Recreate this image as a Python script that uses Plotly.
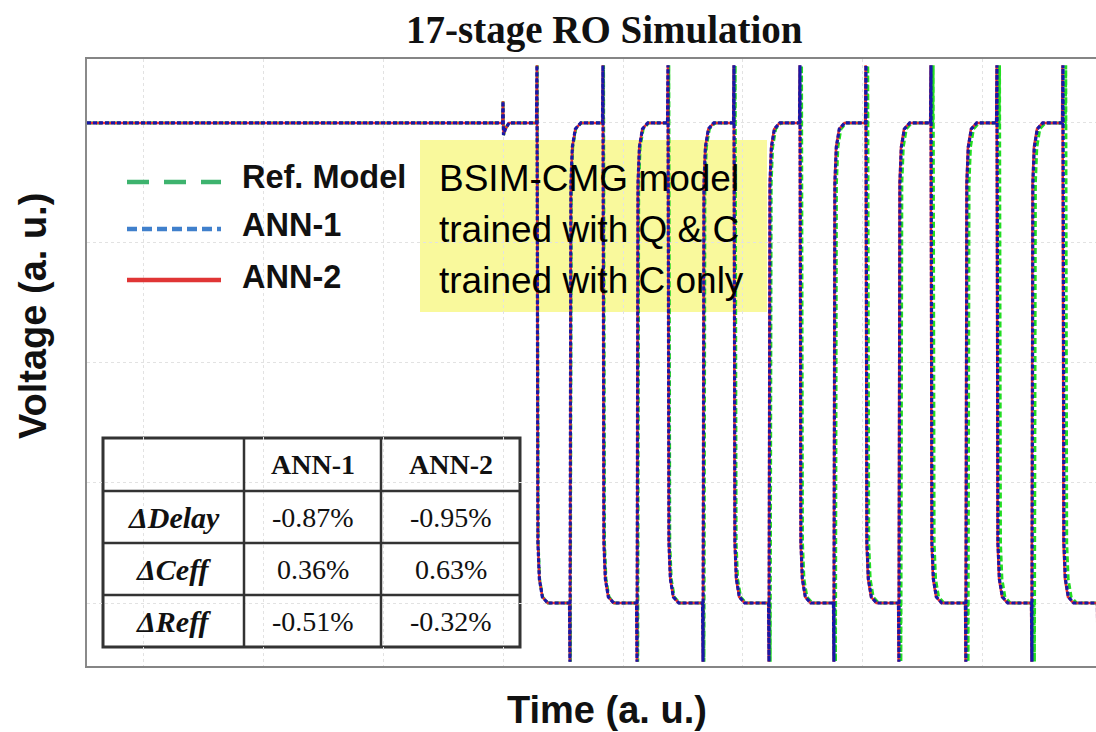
import plotly.graph_objects as go

# ---------------- data ----------------
# time axis in arbitrary units (grid spacing = 1), voltage in arbitrary units
X_RANGE = [0.533, 8.942]
Y_RANGE = [-0.525, 4.533]

T_START = 0.533          # trace start (left frame)
T_GLITCH = 4.0           # first small kick when oscillation begins
V_HIGH = 4.0
V_LOW = 0.0

# falling / rising edge times of each model
ref_fall = [4.285, 4.838, 5.382, 5.935, 6.488, 7.040, 7.585, 8.138, 8.690]
ref_rise = [4.561, 5.123, 5.675, 6.227, 6.771, 7.316, 7.876, 8.429, 8.985]
ann1_fall = [4.283, 4.833, 5.375, 5.925, 6.475, 7.025, 7.567, 8.117, 8.667]
ann1_rise = [4.558, 5.117, 5.667, 6.217, 6.758, 7.300, 7.858, 8.408, 8.958]
ann2_fall = [4.283, 4.832, 5.374, 5.923, 6.473, 7.022, 7.564, 8.114, 8.663]
ann2_rise = [4.558, 5.116, 5.666, 6.215, 6.756, 7.297, 7.855, 8.405, 8.955]

# edge shapes (time offset from edge, voltage)
FALL_DT = [-0.004, 0.0, 0.008, 0.02, 0.045, 0.09]
FALL_V = [4.0, 4.48, 0.5, 0.2, 0.05, 0.0]
RISE_DT = [-0.004, 0.0, 0.008, 0.02, 0.045, 0.09]
RISE_V = [0.0, -0.49, 3.5, 3.8, 3.95, 4.0]
GLITCH_DT = [-0.004, 0.0, 0.004, 0.02, 0.05]
GLITCH_V = [4.0, 4.18, 3.9, 3.95, 4.0]

series_names = ["Ref. Model", "ANN-1", "ANN-2"]

# table
table_header = ["", "ANN-1", "ANN-2"]
table_rows = ["ΔDelay", "ΔCeff", "ΔReff"]
ann1_vals = ["-0.87%", "0.36%", "-0.51%"]
ann2_vals = ["-0.95%", "0.63%", "-0.32%"]

box_lines = ["BSIM-CMG model", "trained with Q & C", "trained with C only"]

# ---------------- layout helpers ----------------
W, H = 1096, 732
ML, MR, MT, MB = 87, 0, 59, 66
PW, PH = W - ML - MR, H - MT - MB


def px(x):
    return (x - ML) / PW


def py(y):
    return (H - MB - y) / PH


def build_wave(falls, rises):
    events = [(T_GLITCH, GLITCH_DT, GLITCH_V)]
    events += [(t, FALL_DT, FALL_V) for t in falls]
    events += [(t, RISE_DT, RISE_V) for t in rises]
    events.sort(key=lambda e: e[0])
    xs, ys = [T_START], [V_HIGH]
    for t, dts, vs in events:
        for dt, v in zip(dts, vs):
            xs.append(t + dt)
            ys.append(v)
    return xs, ys


fig = go.Figure()

xr, yr = build_wave(ref_fall, ref_rise)
x1, y1 = build_wave(ann1_fall, ann1_rise)
x2, y2 = build_wave(ann2_fall, ann2_rise)

fig.add_trace(go.Scatter(x=xr, y=yr, mode="lines", name=series_names[0],
                         line=dict(color="#22dd22", width=3, dash="6px,3px")))
fig.add_trace(go.Scatter(x=x2, y=y2, mode="lines", name=series_names[2],
                         line=dict(color="#e83030", width=2.5)))
fig.add_trace(go.Scatter(x=x1, y=y1, mode="lines", name=series_names[1],
                         line=dict(color="#1818a8", width=3.2, dash="4px,2px")))

shapes = []
annotations = []

# white legend background and yellow note box
shapes.append(dict(type="rect", xref="paper", yref="paper", layer="between",
                   x0=px(120), x1=px(420), y0=py(312), y1=py(143),
                   fillcolor="white", line=dict(width=0)))
shapes.append(dict(type="rect", xref="paper", yref="paper", layer="between",
                   x0=px(420), x1=px(767), y0=py(312), y1=py(140),
                   fillcolor="#f9f99c", line=dict(width=0)))

# legend samples
leg_y = [182, 229, 280]
leg_styles = [dict(color="#3db36e", width=4.5, dash="22px,15px"),
              dict(color="#4080cc", width=4.5, dash="10px,5px"),
              dict(color="#e03535", width=4.5, dash="solid")]
leg_text_y = [177, 225, 277]
for name, yy, ty, st in zip(series_names, leg_y, leg_text_y, leg_styles):
    shapes.append(dict(type="line", xref="paper", yref="paper",
                       x0=px(127), x1=px(221), y0=py(yy), y1=py(yy), line=st))
    annotations.append(dict(text="<b>%s</b>" % name, xref="paper", yref="paper",
                            x=px(240), y=py(ty), xanchor="left", yanchor="middle",
                            showarrow=False,
                            font=dict(family="Liberation Sans", size=32.5, color="#111")))

# yellow box text
for line, ty in zip(box_lines, [178, 229, 280]):
    annotations.append(dict(text=line, xref="paper", yref="paper",
                            x=px(437), y=py(ty), xanchor="left", yanchor="middle",
                            showarrow=False,
                            font=dict(family="Liberation Sans", size=37, color="black")))

# table
col_x = [103, 244, 381, 520]
row_y = [438, 491, 543, 595, 647]
shapes.append(dict(type="rect", xref="paper", yref="paper", layer="between",
                   x0=px(col_x[0]), x1=px(col_x[-1]), y0=py(row_y[-1]), y1=py(row_y[0]),
                   fillcolor="white", line=dict(color="#333", width=3)))
for cx in col_x[1:-1]:
    shapes.append(dict(type="line", xref="paper", yref="paper",
                       x0=px(cx), x1=px(cx), y0=py(row_y[-1]), y1=py(row_y[0]),
                       line=dict(color="#333", width=2.5)))
for ry in row_y[1:-1]:
    shapes.append(dict(type="line", xref="paper", yref="paper",
                       x0=px(col_x[0]), x1=px(col_x[-1]), y0=py(ry), y1=py(ry),
                       line=dict(color="#333", width=2.5)))

col_c = [(col_x[i] + col_x[i + 1]) / 2 for i in range(3)]
row_c = [(row_y[i] + row_y[i + 1]) / 2 for i in range(4)]
tfont = dict(family="Liberation Serif", size=28, color="#111")
lfont = dict(family="Liberation Serif", size=30, color="#111")
for j, h in enumerate(table_header):
    if h:
        annotations.append(dict(text="<b>%s</b>" % h, xref="paper", yref="paper",
                                x=px(col_c[j]), y=py(row_c[0]), showarrow=False,
                                xanchor="center", yanchor="middle", font=tfont))
for i, rname in enumerate(table_rows):
    cells = ["<b><i>%s</i></b>" % rname, ann1_vals[i], ann2_vals[i]]
    for j, c in enumerate(cells):
        annotations.append(dict(text=c, xref="paper", yref="paper",
                                x=px(col_c[j]), y=py(row_c[i + 1]), showarrow=False,
                                xanchor="center", yanchor="middle",
                                font=lfont if j == 0 else tfont))

# title and axis labels
annotations.append(dict(text="<b>17-stage RO Simulation</b>", xref="paper", yref="paper",
                        x=px(604), y=py(30), xanchor="center", yanchor="middle",
                        showarrow=False,
                        font=dict(family="Liberation Serif", size=39, color="#111")))
annotations.append(dict(text="<b>Time (a. u.)</b>", xref="paper", yref="paper",
                        x=px(607), y=py(710), xanchor="center", yanchor="middle",
                        showarrow=False,
                        font=dict(family="Liberation Sans", size=38, color="#111")))
annotations.append(dict(text="<b>Voltage (a. u.)</b>", xref="paper", yref="paper",
                        x=px(33), y=py(316), xanchor="center", yanchor="middle",
                        textangle=-90, showarrow=False,
                        font=dict(family="Liberation Sans", size=38, color="#111")))

fig.update_layout(
    width=W, height=H,
    margin=dict(l=ML, r=MR, t=MT, b=MB),
    paper_bgcolor="white", plot_bgcolor="white",
    showlegend=False,
    shapes=shapes, annotations=annotations,
    xaxis=dict(range=X_RANGE, showticklabels=False, ticks="", dtick=1, tick0=0,
               showgrid=True, gridcolor="#e2e2e2", griddash="dot", gridwidth=1,
               zeroline=False, showline=True, linecolor="#858585", linewidth=2,
               mirror=True, fixedrange=True),
    yaxis=dict(range=Y_RANGE, showticklabels=False, ticks="", dtick=1, tick0=0,
               showgrid=True, gridcolor="#e2e2e2", griddash="dot", gridwidth=1,
               zeroline=False, showline=True, linecolor="#8a8a8a", linewidth=2,
               mirror=False, fixedrange=True),
)

fig.write_html("out.html", config={"displayModeBar": False},
               post_script="document.body.style.margin='0px';")
